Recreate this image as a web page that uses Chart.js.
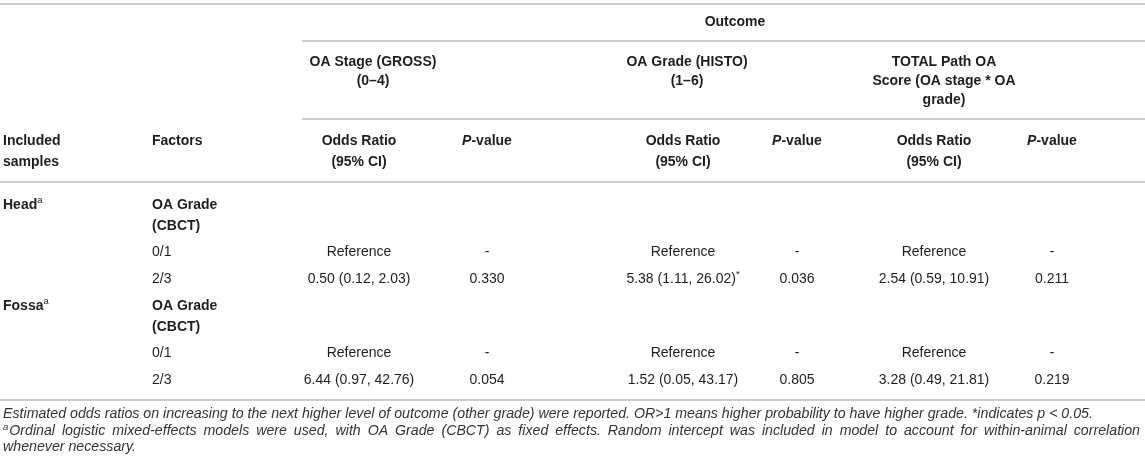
<!DOCTYPE html>
<html>
<head>
<meta charset="utf-8">
<script src="https://cdn.jsdelivr.net/npm/chart.js@4.4.1/dist/chart.umd.min.js"></script>
<style>
  html, body { margin: 0; padding: 0; background: #fff; }
  #wrap { width: 1145px; height: 470px; position: relative; }
</style>
</head>
<body>
<div id="wrap"><canvas id="oddsTable"></canvas></div>
<script>
// table content
const outcomeTitle = "Outcome";
const outcomes = [
    ["OA Stage (GROSS)", "(0–4)"],
    ["OA Grade (HISTO)", "(1–6)"],
    ["TOTAL Path OA", "Score (OA stage * OA", "grade)"]
];
const samples = ["Head", "Fossa"];
const factorName = ["OA Grade", "(CBCT)"];
const levels = ["0/1", "2/3"];
const refOdds = "Reference";
const refP = "-";
const headOdds = ["0.50 (0.12, 2.03)", "5.38 (1.11, 26.02)*", "2.54 (0.59, 10.91)"];
const headP = ["0.330", "0.036", "0.211"];
const fossaOdds = ["6.44 (0.97, 42.76)", "1.52 (0.05, 43.17)", "3.28 (0.49, 21.81)"];
const fossaP = ["0.054", "0.805", "0.219"];
const note1 = "Estimated odds ratios on increasing to the next higher level of outcome (other grade) were reported. OR>1 means higher probability to have higher grade. *indicates p < 0.05.";
const note2 = "Ordinal logistic mixed-effects models were used, with OA Grade (CBCT) as fixed effects. Random intercept was included in model to account for within-animal correlation whenever necessary.";

// layout
const W = 1145, H = 470;
const FAM = "'Liberation Sans', Arial, Helvetica, sans-serif";
const fonts = {
    b: "bold 14px " + FAM,
    bi: "italic bold 14px " + FAM,
    r: "14px " + FAM,
    sup: "9.5px " + FAM,
    i: "italic 14.2px " + FAM,
    isup: "italic 9.5px " + FAM
};
const sampleX = 3, factorX = 152;
const orX = [359, 683, 934];
const pX = [487, 797, 1052];
const groupX = [373, 687, 944];
const rules = [
    { y: 4, from: 0 }, { y: 41, from: 302 }, { y: 119, from: 302 },
    { y: 182, from: 0 }, { y: 400, from: 0 }
];

const cells = [];
function cell(x, y, runs, align) {
    cells.push({ x: x, y: y, runs: runs, align: align || "center" });
}

cell(735, 22, [{ t: outcomeTitle, f: "b" }]);
outcomes.forEach((lines, i) => {
    lines.forEach((t, j) => cell(groupX[i], 62 + j * 19, [{ t: t, f: "b" }]));
});
cell(sampleX, 141, [{ t: "Included", f: "b" }], "left");
cell(sampleX, 162, [{ t: "samples", f: "b" }], "left");
cell(factorX, 141, [{ t: "Factors", f: "b" }], "left");
orX.forEach((x, i) => {
    cell(x, 141, [{ t: "Odds Ratio", f: "b" }]);
    cell(x, 162, [{ t: "(95% CI)", f: "b" }]);
    cell(pX[i], 141, [{ t: "P", f: "bi" }, { t: "-value", f: "b" }]);
});

function oddsRuns(s) {
    if (s.endsWith("*")) return [{ t: s.slice(0, -1), f: "r" }, { t: "*", f: "sup" }];
    return [{ t: s, f: "r" }];
}

[[headOdds, headP], [fossaOdds, fossaP]].forEach((vals, k) => {
    const base = 205 + k * 101;
    cell(sampleX, base, [{ t: samples[k], f: "b" }, { t: "a", f: "sup" }], "left");
    cell(factorX, base, [{ t: factorName[0], f: "b" }], "left");
    cell(factorX, base + 21, [{ t: factorName[1], f: "b" }], "left");
    cell(factorX, base + 47, [{ t: levels[0], f: "r" }], "left");
    cell(factorX, base + 74, [{ t: levels[1], f: "r" }], "left");
    orX.forEach((x, i) => {
        cell(x, base + 47, [{ t: refOdds, f: "r" }]);
        cell(pX[i], base + 47, [{ t: refP, f: "r" }]);
        cell(x, base + 74, oddsRuns(vals[0][i]));
        cell(pX[i], base + 74, [{ t: vals[1][i], f: "r" }]);
    });
});

// notes: wrap at breakAt, justify full lines to width
cells.push({ x: sampleX, y: 414, note: note1, sup: "", width: 1137, breakAt: 1137, lh: 16 });
cells.push({ x: sampleX, y: 431, note: note2, sup: "a", width: 1137, breakAt: 1080, lh: 16 });

function runWidth(ctx, r) {
    ctx.font = fonts[r.f];
    return ctx.measureText(r.t).width;
}

function drawRuns(ctx, c, px, py) {
    let total = 0;
    c.runs.forEach(r => total += runWidth(ctx, r));
    let x = c.align === "left" ? px : px - total / 2;
    c.runs.forEach(r => {
        ctx.font = fonts[r.f];
        const dy = r.f === "sup" ? -5 : 0;
        ctx.fillText(r.t, x, py + dy);
        x += ctx.measureText(r.t).width;
    });
}

function drawNote(ctx, c, px, py, yScale) {
    ctx.fillStyle = "#333";
    ctx.font = fonts.isup;
    const supW = c.sup ? ctx.measureText(c.sup).width + 1 : 0;
    ctx.font = fonts.i;
    const words = c.note.split(" ");
    const space = ctx.measureText(" ").width;
    const lines = [];
    let cur = [], w = supW;
    words.forEach(word => {
        const ww = ctx.measureText(word).width;
        const add = cur.length ? space + ww : ww;
        if (cur.length && w + add > c.breakAt) {
            lines.push(cur);
            cur = [word];
            w = ww;
        } else {
            cur.push(word);
            w += add;
        }
    });
    lines.push(cur);
    lines.forEach((ln, li) => {
        const y = yScale.getPixelForValue(c.y + li * c.lh);
        let x = px;
        if (li === 0 && c.sup) {
            ctx.font = fonts.isup;
            ctx.fillText(c.sup, x, y - 4);
            x += supW;
            ctx.font = fonts.i;
        }
        const wordsW = ln.reduce((s, wd) => s + ctx.measureText(wd).width, 0);
        const avail = c.width - (li === 0 ? supW : 0);
        const gap = (li < lines.length - 1 && ln.length > 1)
            ? (avail - wordsW) / (ln.length - 1) : space;
        ln.forEach(wd => {
            ctx.fillText(wd, x, y);
            x += ctx.measureText(wd).width + gap;
        });
    });
}

const tablePlugin = {
    id: "tableText",
    beforeDatasetsDraw(chart) {
        const { ctx, scales: { x, y } } = chart;
        ctx.save();
        ctx.strokeStyle = "#bdbdbd";
        ctx.lineWidth = 1.6;
        rules.forEach(r => {
            const py = y.getPixelForValue(r.y);
            ctx.beginPath();
            ctx.moveTo(x.getPixelForValue(r.from), py);
            ctx.lineTo(x.getPixelForValue(W), py);
            ctx.stroke();
        });
        ctx.restore();
    },
    afterDatasetsDraw(chart) {
        const ctx = chart.ctx;
        const meta = chart.getDatasetMeta(0);
        const data = chart.data.datasets[0].data;
        ctx.save();
        ctx.textBaseline = "middle";
        ctx.textAlign = "left";
        meta.data.forEach((pt, i) => {
            const c = data[i];
            ctx.fillStyle = "#1e1e1e";
            if (c.note) drawNote(ctx, c, pt.x, pt.y, chart.scales.y);
            else drawRuns(ctx, c, pt.x, pt.y);
        });
        ctx.restore();
    }
};

const oddsTable = new Chart(document.getElementById("oddsTable"), {
    type: "scatter",
    data: {
        datasets: [{
            data: cells,
            pointRadius: 0,
            pointHoverRadius: 0
        }]
    },
    options: {
        responsive: true,
        maintainAspectRatio: false,
        animation: false,
        events: [],
        layout: { padding: 0 },
        plugins: { legend: { display: false }, tooltip: { enabled: false } },
        scales: {
            x: { type: "linear", min: 0, max: W, display: false },
            y: { type: "linear", min: 0, max: H, reverse: true, display: false }
        }
    },
    plugins: [tablePlugin]
});
</script>
</body>
</html>
